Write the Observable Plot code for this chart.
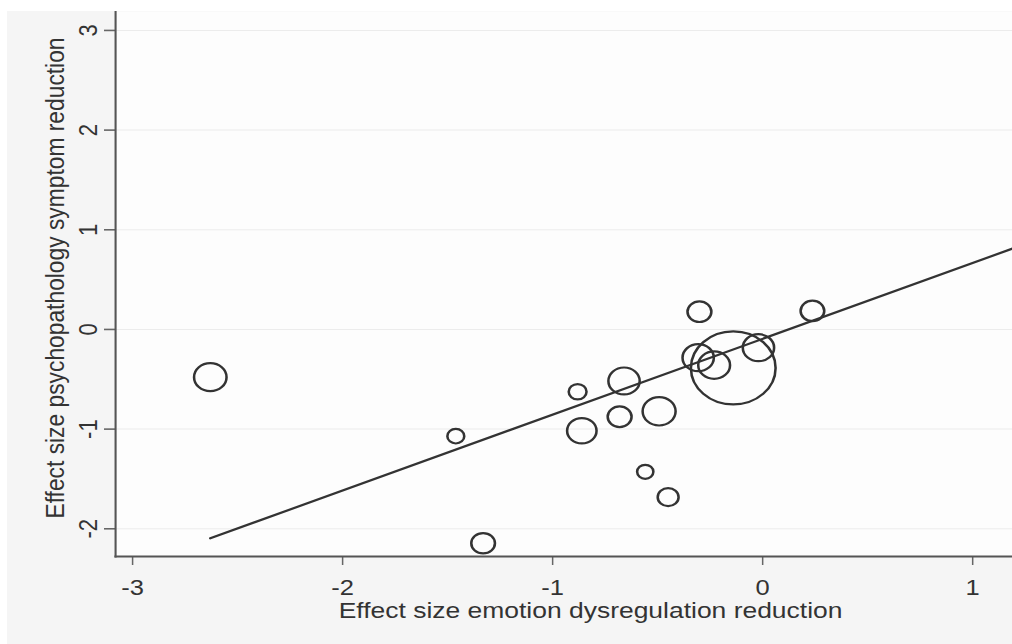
<!DOCTYPE html>
<html><head><meta charset="utf-8">
<script src="https://cdn.jsdelivr.net/npm/d3@7"></script>
<script src="https://cdn.jsdelivr.net/npm/@observablehq/plot@0.6"></script>
<style>
html,body{margin:0;padding:0;background:#fff;}
#chart{position:absolute;left:7px;top:11px;}
</style></head><body><div id="chart"></div>
<script>
const xLabel = "Effect size emotion dysregulation reduction";
const yLabel = "Effect size psychopathology symptom reduction";
const xTicks = [-3, -2, -1, 0, 1];
const yTicks = [-2, -1, 0, 1, 2, 3];
const emotionES = [-0.301, 0.237, -0.140, -0.020, -0.307, -0.231, -0.881, -0.660, -0.861, -0.681, -0.493, -0.559, -0.450, -1.461, -1.331, -2.630];
const symptomES = [0.178, 0.186, -0.386, -0.183, -0.283, -0.358, -0.625, -0.517, -1.016, -0.876, -0.821, -1.428, -1.683, -1.071, -2.145, -0.479];
const studyWeight = [1.06, 1.04, 13.32, 1.82, 1.82, 1.88, 0.59, 1.82, 1.61, 1.06, 2.02, 0.49, 0.81, 0.53, 1.04, 1.96];
const fitIntercept = -0.094;
const fitSlope = 0.761;

const xDomain = [-3.081, 1.19];
const yDomain = [-2.278, 3.19];

const stretch = 1.16;
const outW = 1005, outH = 633;
const W = outW / stretch;
const H = outH;

const points = emotionES.map((x, i) => ({x, y: symptomES[i], w: studyWeight[i]}));
const fitX = [d3.min(emotionES), xDomain[1]];
const fit = fitX.map(x => ({x, y: fitIntercept + fitSlope * x}));

const font = "'Liberation Sans', Arial, Helvetica, sans-serif";
const ink = "#333";

const svg = Plot.plot({
  width: W,
  height: H,
  marginLeft: 108 / stretch,
  marginRight: 0,
  marginTop: 0,
  marginBottom: 88,
  style: {fontFamily: font, background: "#f5f5f5", color: ink},
  x: {domain: xDomain, label: null},
  y: {domain: yDomain, label: null},
  r: {type: "sqrt", domain: [0, 13.32], range: [0, 36.5]},
  marks: [
    Plot.frame({fill: "#fdfdfd", stroke: null}),
    Plot.gridY(yTicks, {stroke: "#ececec", strokeOpacity: 1, strokeWidth: 1}),
    Plot.axisX({ticks: xTicks, tickSize: 9, tickPadding: 14, fontSize: 22, tickFormat: d => String(d), stroke: "#666", strokeWidth: 1.3, fill: ink, label: null}),
    Plot.axisY({ticks: yTicks, tickSize: 9.5, tickFormat: () => "", stroke: "#666", strokeWidth: 1.6, label: null}),
    Plot.text(yTicks, {y: d => d, text: d => String(d), frameAnchor: "left", dx: -26.5 / stretch, rotate: -90, textAnchor: "middle", lineAnchor: "middle", fontSize: 22, fill: ink}),
    Plot.text([yLabel], {frameAnchor: "left", dx: -60 / stretch, dy: -6, rotate: -90, textAnchor: "middle", lineAnchor: "middle", fontSize: 22.8, fill: ink}),
    Plot.text([xLabel], {frameAnchor: "bottom", dx: 26.5 / stretch, dy: 45.5, textAnchor: "middle", lineAnchor: "top", fontSize: 22.8, fill: ink}),
    Plot.line(fit, {x: "x", y: "y", stroke: ink, strokeWidth: 2.2, clip: true}),
    Plot.dot(points, {x: "x", y: "y", r: "w", stroke: ink, strokeWidth: 2.2, fill: "none"}),
    Plot.frame({anchor: "left", stroke: "#555", strokeWidth: 1.8}),
    Plot.frame({anchor: "bottom", stroke: "#555", strokeWidth: 2})
  ]
});

svg.setAttribute("viewBox", `0 0 ${W} ${H}`);
svg.setAttribute("preserveAspectRatio", "none");
svg.setAttribute("width", outW);
svg.setAttribute("height", outH);
svg.style.width = outW + "px";
svg.style.height = outH + "px";
svg.style.maxWidth = "none";
document.getElementById("chart").appendChild(svg);
</script>
</body></html>
